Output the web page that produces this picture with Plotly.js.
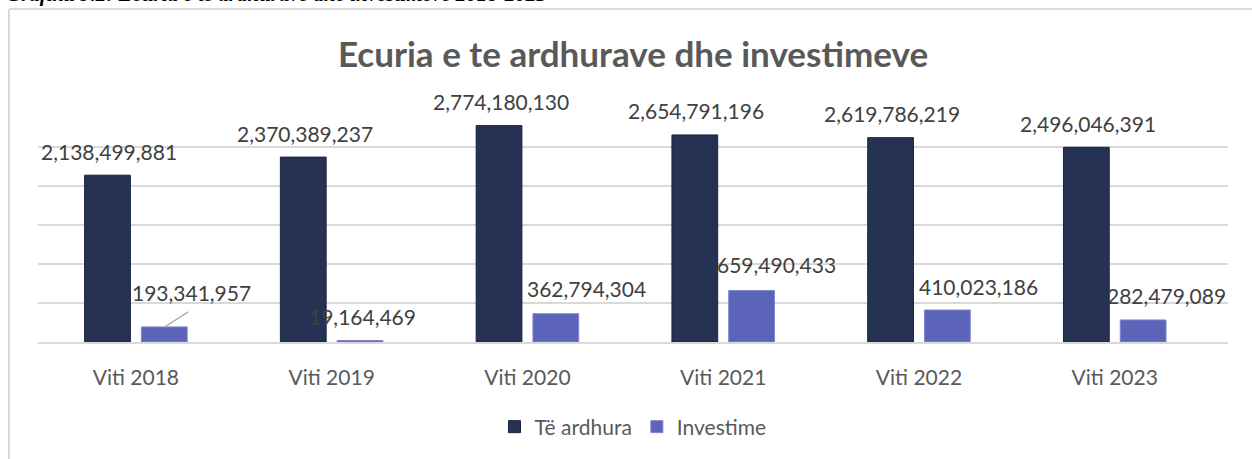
<!DOCTYPE html>
<html>
<head>
<meta charset="utf-8">
<script src="https://cdn.plot.ly/plotly-3.0.1.min.js"></script>
<style>html,body{margin:0;padding:0;background:#fff;}#chart{width:1252px;height:459px;}</style>
</head>
<body>
<div id="chart"></div>
<script>
// ---- data ----
const categories = ["Viti 2018", "Viti 2019", "Viti 2020", "Viti 2021", "Viti 2022", "Viti 2023"];
const revenue = [2138499881, 2370389237, 2774180130, 2654791196, 2619786219, 2496046391];
const investment = [193341957, 19164469, 362794304, 659490433, 410023186, 282479089];
const seriesNames = ["Të ardhura", "Investime"];
const chartTitle = "Ecuria e te ardhurave dhe investimeve";
const captionText = "Grafiku 9.2: Ecuria e te ardhurave dhe investimeve 2018-2023";

// ---- layout settings (pixel geometry) ----
const W = 1252, H = 459;
const M = {l: 38, r: 24, t: 108, b: 117};
const plotW = W - M.l - M.r, plotH = H - M.t - M.b;
const bargap = 0.42, bargroupgap = 0.194;
const slot = plotW / categories.length * (1 - bargap) / 2;
const barOffset = slot / 2;
// manual label offsets (px) for the investment labels, as placed in the original
const invLabelDx = [27, 2, 30, 25, 31, 23];
const invLabelDy = [34, 24, 25, 26, 24, 24];
const revLabelDy = 24;

const fmt = v => v.toLocaleString("en-US");
const FONT = "Lato, 'Open Sans', sans-serif";
const pxToPaperY = py => (M.t + plotH - py) / plotH;
const pxToPaperX = px => (px - M.l) / plotW;

const traces = [
  {type: "bar", name: seriesNames[0], x: categories, y: revenue,
   marker: {color: "#263254", line: {color: "#1b2140", width: 1}}, hoverinfo: "y"},
  {type: "bar", name: seriesNames[1], x: categories, y: investment,
   marker: {color: "#5b64b8", line: {color: "#7d85cc", width: 1}}, hoverinfo: "y"}
];

const annotations = [];
categories.forEach((c, i) => {
  annotations.push({x: c, y: revenue[i], xref: "x", yref: "y", text: fmt(revenue[i]),
    showarrow: false, xshift: -barOffset + 2, yshift: revLabelDy, yanchor: "middle",
    font: {family: FONT, size: 21, color: "#404040"}});
  annotations.push({x: c, y: investment[i], xref: "x", yref: "y", text: fmt(investment[i]),
    showarrow: false, xshift: barOffset + invLabelDx[i], yshift: invLabelDy[i], yanchor: "middle",
    font: {family: FONT, size: 21, color: "#404040"}});
});
// leader line for the first investment label
annotations.push({x: categories[0], y: investment[0], xref: "x", yref: "y", text: "",
  showarrow: true, arrowhead: 0, arrowwidth: 1.2, arrowcolor: "#a6a6a6",
  ax: 25, ay: -16, xshift: barOffset, standoff: 0, startstandoff: 0});
// caption (cut off at the top of the picture)
annotations.push({xref: "paper", yref: "paper", x: pxToPaperX(4), xanchor: "left",
  y: pxToPaperY(-6), yanchor: "middle", text: "<b><i>" + captionText + "</i></b>",
  showarrow: false, font: {family: "'Liberation Serif', serif", size: 21, color: "#000"}});

const layout = {
  width: W, height: H, margin: M,
  paper_bgcolor: "#ffffff", plot_bgcolor: "#ffffff",
  font: {family: FONT, color: "#595959"},
  title: {text: "<b>" + chartTitle + "</b>", x: 0.5, xref: "paper", y: 1 - 55 / H, yref: "container",
    yanchor: "middle", font: {family: FONT, size: 35, color: "#595959"}},
  barmode: "group", bargap: bargap, bargroupgap: bargroupgap,
  xaxis: {type: "category", showgrid: false, showline: true, linecolor: "#d9d9d9", linewidth: 1.5,
    ticks: "", ticklabelstandoff: 16, tickfont: {family: FONT, size: 21, color: "#595959"}, fixedrange: true},
  yaxis: {range: [0, 3000000000], dtick: 500000000, showgrid: true, gridcolor: "#d9d9d9", gridwidth: 1.3,
    showticklabels: false, zeroline: false, showline: false, ticks: "", fixedrange: true},
  showlegend: true,
  legend: {orientation: "h", x: 0.5, xanchor: "center", y: pxToPaperY(427), yanchor: "middle",
    yref: "paper", font: {family: FONT, size: 21, color: "#595959"}, itemclick: false, traceorder: "normal"},
  annotations: annotations,
  shapes: [
    {type: "line", xref: "paper", yref: "paper", x0: pxToPaperX(9), x1: pxToPaperX(W + 5),
      y0: pxToPaperY(9), y1: pxToPaperY(9), line: {color: "#d9d9d9", width: 2}},
    {type: "line", xref: "paper", yref: "paper", x0: pxToPaperX(9), x1: pxToPaperX(9),
      y0: pxToPaperY(9), y1: pxToPaperY(H + 5), line: {color: "#d9d9d9", width: 2}}
  ]
};

Plotly.newPlot("chart", traces, layout, {displayModeBar: false, staticPlot: true});
</script>
</body>
</html>
